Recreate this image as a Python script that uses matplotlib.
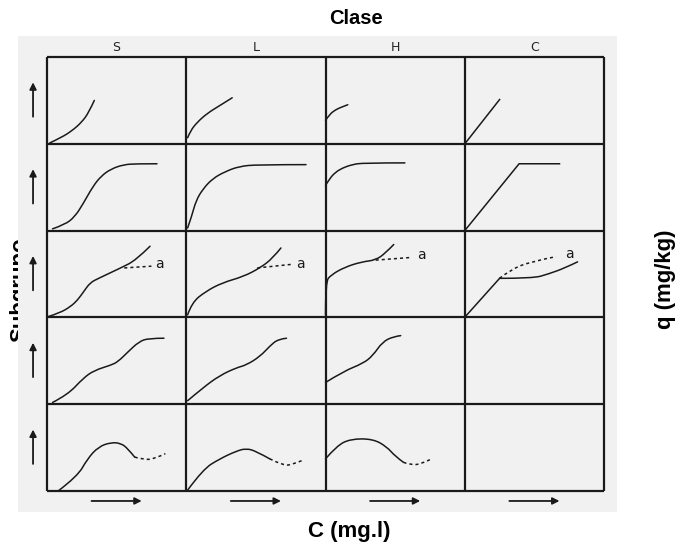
import matplotlib.pyplot as plt
from matplotlib.path import Path
from matplotlib.patches import PathPatch
import numpy as np

# column classes and subgroups (rows, top to bottom)
classes = ['S', 'L', 'H', 'C']
subgroups = ['1', '2', '3', '4', 'mx']

# curve shapes, in cell units (x: 0..1 left->right, y: 0..1 bottom->top)
# one list per class, one entry per subgroup row (None = empty cell)
curves_S = [
    [(0.02, 0.01), (0.10, 0.07), (0.18, 0.15), (0.25, 0.25), (0.30, 0.36), (0.34, 0.50)],
    [(0.04, 0.02), (0.13, 0.07), (0.20, 0.16), (0.26, 0.31), (0.33, 0.51), (0.39, 0.63),
     (0.46, 0.71), (0.55, 0.76), (0.64, 0.77), (0.79, 0.77)],
    [(0.01, 0.01), (0.09, 0.05), (0.17, 0.125), (0.22, 0.20), (0.265, 0.30), (0.31, 0.40),
     (0.37, 0.45), (0.53, 0.57), (0.64, 0.66), (0.74, 0.82)],
    [(0.04, 0.02), (0.15, 0.11), (0.26, 0.30), (0.34, 0.39), (0.46, 0.45), (0.51, 0.49),
     (0.58, 0.60), (0.66, 0.72), (0.73, 0.76), (0.84, 0.76)],
    [(0.08, 0.0), (0.22, 0.17), (0.29, 0.37), (0.37, 0.51), (0.46, 0.56), (0.53, 0.55),
     (0.58, 0.49), (0.63, 0.39)],
]
curves_L = [
    [(0.01, 0.07), (0.03, 0.15), (0.08, 0.25), (0.15, 0.35), (0.24, 0.44), (0.33, 0.53)],
    [(0.01, 0.03), (0.04, 0.17), (0.07, 0.345), (0.12, 0.48), (0.19, 0.60), (0.28, 0.68),
     (0.38, 0.74), (0.51, 0.76), (0.86, 0.76)],
    [(0.01, 0.03), (0.04, 0.17), (0.14, 0.30), (0.26, 0.40), (0.41, 0.47), (0.53, 0.57),
     (0.62, 0.68), (0.68, 0.80)],
    [(0.01, 0.04), (0.12, 0.19), (0.24, 0.33), (0.36, 0.42), (0.43, 0.45), (0.53, 0.55),
     (0.60, 0.67), (0.66, 0.75), (0.72, 0.76)],
    [(0.01, 0.01), (0.12, 0.25), (0.24, 0.37), (0.36, 0.46), (0.43, 0.49), (0.50, 0.46),
     (0.60, 0.37)],
]
curves_H = [
    [(0.0, 0.27), (0.03, 0.34), (0.07, 0.39), (0.11, 0.42), (0.16, 0.45)],
    [(0.0, 0.52), (0.03, 0.60), (0.07, 0.67), (0.12, 0.72), (0.19, 0.76), (0.27, 0.78),
     (0.57, 0.78)],
    [(0.0, 0.03), (0.0, 0.41), (0.04, 0.49), (0.14, 0.58), (0.26, 0.64), (0.36, 0.66),
     (0.43, 0.74), (0.49, 0.84)],
    [(0.0, 0.25), (0.13, 0.38), (0.27, 0.47), (0.34, 0.56), (0.41, 0.72), (0.49, 0.78),
     (0.54, 0.79)],
    [(0.0, 0.37), (0.08, 0.52), (0.18, 0.60), (0.34, 0.60), (0.44, 0.51), (0.50, 0.40),
     (0.56, 0.33)],
]
# C class: straight rise (sharp corner) then optional smooth part
curves_C = [
    [(0.01, 0.02), (0.25, 0.51)],
    [(0.01, 0.02), (0.39, 0.77), (0.68, 0.77)],
    [(0.01, 0.02), (0.25, 0.45)],
    None,
    None,
]
curves_C_tail = {2: [(0.25, 0.45), (0.49, 0.45), (0.60, 0.50), (0.72, 0.57), (0.81, 0.64)]}

# dashed continuations: (class, row) -> points
dashed = {
    ('S', 2): [(0.555, 0.57), (0.75, 0.59)],
    ('L', 2): [(0.51, 0.57), (0.75, 0.61)],
    ('H', 2): [(0.36, 0.66), (0.61, 0.69)],
    ('C', 2): [(0.25, 0.45), (0.325, 0.545), (0.465, 0.64), (0.655, 0.70)],
    ('S', 4): [(0.63, 0.39), (0.70, 0.36), (0.77, 0.37), (0.85, 0.43)],
    ('L', 4): [(0.60, 0.37), (0.70, 0.29), (0.77, 0.31), (0.83, 0.35)],
    ('H', 4): [(0.56, 0.33), (0.61, 0.30), (0.69, 0.31), (0.76, 0.37)],
}
# "a" labels at the end of the dashed lines in row 3
a_labels = {'S': (0.81, 0.61), 'L': (0.82, 0.61), 'H': (0.69, 0.72), 'C': (0.75, 0.73)}

all_curves = {'S': curves_S, 'L': curves_L, 'H': curves_H, 'C': curves_C}

ncol = len(classes)
nrow = len(subgroups)
ink = '#1a1a1a'


def smooth_path(ax, pts, **kw):
    # quadratic bezier through midpoints, drawn by matplotlib's path renderer
    if len(pts) < 3:
        verts, codes = pts, [Path.MOVETO] + [Path.LINETO] * (len(pts) - 1)
    else:
        verts = [pts[0]]
        codes = [Path.MOVETO]
        for i in range(1, len(pts) - 1):
            end = pts[i + 1] if i == len(pts) - 2 else ((pts[i][0] + pts[i + 1][0]) / 2,
                                                       (pts[i][1] + pts[i + 1][1]) / 2)
            verts += [pts[i], end]
            codes += [Path.CURVE3, Path.CURVE3]
    ax.add_patch(PathPatch(Path(verts, codes), fill=False, **kw))


fig = plt.figure(figsize=(6.81, 5.49), dpi=100)
ax = fig.add_axes([18 / 681, 1 - 512 / 549, 599 / 681, 476 / 549])
ax.set_facecolor('#f1f1f1')
ax.set_zorder(1)
ax.set_xlim(-0.208, ncol + 0.093)
ax.set_ylim(-0.242, nrow + 0.242)
ax.set_xticks([])
ax.set_yticks([])
for sp in ax.spines.values():
    sp.set_visible(False)

# table grid
ax.hlines(np.arange(nrow + 1), 0, ncol, color=ink, lw=1.6)
ax.vlines(np.arange(ncol + 1), 0, nrow, color=ink, lw=1.6)

for c, name in enumerate(classes):
    ax.text(c + 0.5, nrow + 0.115, name, ha='center', va='center', fontsize=9, color='#222222')
    for r, pts in enumerate(all_curves[name]):
        y0 = nrow - 1 - r
        if pts is not None:
            cell = [(c + p[0], y0 + p[1]) for p in pts]
            if name == 'C':
                ax.plot([p[0] for p in cell], [p[1] for p in cell], color=ink, lw=1.1)
            else:
                smooth_path(ax, cell, edgecolor=ink, lw=1.1, capstyle='round')
        if name == 'C' and r in curves_C_tail:
            smooth_path(ax, [(c + p[0], y0 + p[1]) for p in curves_C_tail[r]],
                        edgecolor=ink, lw=1.1, capstyle='round')
        if (name, r) in dashed:
            d = [(c + p[0], y0 + p[1]) for p in dashed[(name, r)]]
            smooth_path(ax, d, edgecolor=ink, lw=1.1, linestyle=(0, (2, 2)))
    ax.text(c + a_labels[name][0], 2 + a_labels[name][1], 'a', ha='center', va='center',
            fontsize=10, color=ink)
    # x direction arrow under each column
    ax.annotate('', xy=(c + 0.70, -0.115), xytext=(c + 0.30, -0.115),
                arrowprops=dict(arrowstyle='-|>', color=ink, lw=1.3, mutation_scale=10))

# y direction arrows beside each row
for r in range(nrow):
    y0 = nrow - 1 - r
    ax.annotate('', xy=(-0.10, y0 + 0.74), xytext=(-0.10, y0 + 0.28),
                arrowprops=dict(arrowstyle='-|>', color=ink, lw=1.3, mutation_scale=10))

fig.text(356 / 681, 1 - 18 / 549, 'Clase', ha='center', va='center', fontsize=14.5,
         fontweight='bold', family='Liberation Sans')
fig.text(349 / 681, 1 - 532 / 549, 'C (mg.l)', ha='center', va='center', fontsize=16,
         fontweight='bold', family='Liberation Sans')
fig.text(666 / 681, 1 - 279 / 549, 'q (mg/kg)', ha='center', va='center', fontsize=16,
         fontweight='bold', rotation=90, family='Liberation Sans')
fig.text(20 / 681, 1 - 290 / 549, 'Subgrupo', ha='center', va='center', fontsize=16,
         fontweight='bold', rotation=90, family='Liberation Sans', zorder=-1)

fig.savefig('out.png', dpi=100)
